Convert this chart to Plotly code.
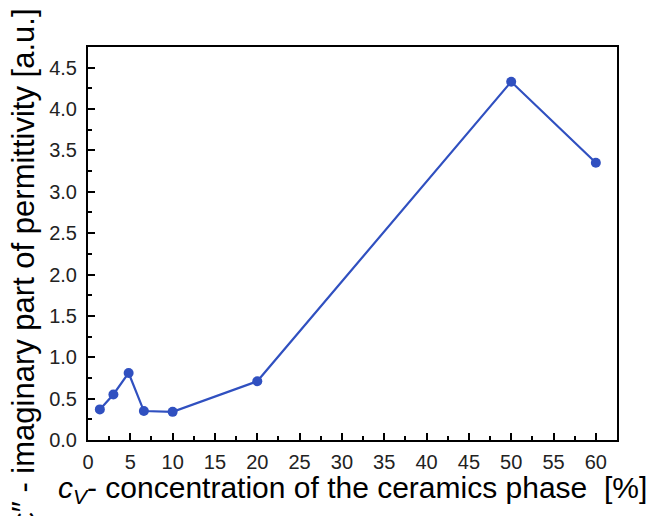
import plotly.graph_objects as go

conc = [1.4, 3.0, 4.8, 6.6, 10.0, 20.0, 50.0, 60.0]
eps_imag = [0.37, 0.55, 0.81, 0.35, 0.34, 0.71, 4.33, 3.35]

x_title = "<i>c</i><sub><i>V</i></sub>- concentration of the ceramics phase\u00a0\u00a0[%]"
y_title = "ε″ - imaginary part of permittivity [a.u.]"

blue = "#3050c0"
font_family = "Arial, Liberation Sans, sans-serif"

fig = go.Figure()
fig.add_trace(go.Scatter(
    x=conc, y=eps_imag, mode="lines+markers",
    line=dict(color=blue, width=2.2),
    marker=dict(color=blue, size=10),
    showlegend=False,
))

axis_common = dict(
    showline=True, linecolor="black", linewidth=2, mirror=True,
    ticks="inside", ticklen=7, tickwidth=2, tickcolor="black",
    showgrid=False, zeroline=False,
    tickfont=dict(family=font_family, size=20, color="#222"),
)

fig.update_xaxes(
    range=[0, 62.5], tick0=0, dtick=5,
    minor=dict(ticks="inside", ticklen=4, tickwidth=2, tickcolor="black", dtick=2.5, showgrid=False),
    ticklabelstandoff=3,
    **axis_common,
)
fig.update_yaxes(
    range=[0, 4.75], tick0=0, dtick=0.5, tickformat=".1f",
    minor=dict(ticks="inside", ticklen=4, tickwidth=2, tickcolor="black", dtick=0.25, showgrid=False),
    ticklabelstandoff=5,
    **axis_common,
)

fig.add_annotation(
    text=x_title, xref="paper", yref="paper", x=0.5, y=-0.127,
    xanchor="center", yanchor="middle", showarrow=False,
    font=dict(family=font_family, size=30, color="black"),
)
fig.add_annotation(
    text=y_title, xref="paper", yref="paper", x=-0.123, y=0.44,
    xanchor="center", yanchor="middle", textangle=-90, showarrow=False,
    font=dict(family=font_family, size=31, color="black"),
)

fig.update_layout(
    width=652, height=516,
    margin=dict(l=88, r=35, t=47, b=76),
    paper_bgcolor="white", plot_bgcolor="white",
    font=dict(family=font_family),
)

fig.write_html(
    "out.html",
    config={"displayModeBar": False},
    post_script="document.body.style.margin='0';document.body.style.overflow='hidden';",
)
